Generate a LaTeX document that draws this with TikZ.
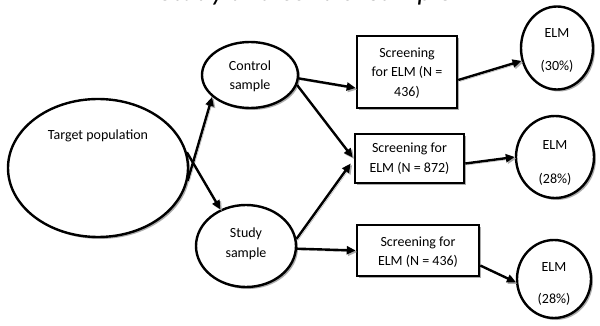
\documentclass[tikz,border=0pt]{standalone}
\usepackage{fontspec}
\setmainfont{Carlito}
\usetikzlibrary{shapes.geometric,shadows,arrows.meta,calc}
\begin{document}
\begin{tikzpicture}[x=1pt,y=-1pt,
  shad/.style={drop shadow={shadow xshift=2pt,shadow yshift=-2pt,fill=gray!65,opacity=1}},
  oval/.style={ellipse,draw=black,line width=2.4pt,fill=white,shad,inner sep=0pt},
  boxn/.style={rectangle,draw=black,line width=2.6pt,fill=white,shad,inner sep=0pt},
  lbl/.style={font=\fontsize{14}{17}\selectfont,inner sep=0pt,anchor=base},
  conn/.style={line width=2.4pt,-{Triangle[length=9pt,width=8pt]},
    preaction={draw=gray!65,transform canvas={xshift=1.5pt,yshift=-1.5pt}}}]
\fill[white] (0,0) rectangle (600,326);
\useasboundingbox (0,0) rectangle (600,326);

% title, mostly cut off above the picture
\node (title) [font=\fontsize{28.6}{30}\selectfont\itshape, anchor=base, inner sep=0pt] at (306,0.8) {Study and control sample};

% shapes
\node (target)  [oval, minimum width=180pt, minimum height=138pt] at (98,168) {};
\node (control) [oval, minimum width=96pt,  minimum height=66pt]  at (250,75) {};
\node (study)   [oval, minimum width=100pt, minimum height=82pt]  at (246,246) {};
\node (box1) [boxn, minimum width=100pt, minimum height=72pt] at (407,72) {};
\node (box2) [boxn, minimum width=109pt, minimum height=49pt] at (409.5,158.5) {};
\node (box3) [boxn, minimum width=122pt, minimum height=51pt] at (418,250.5) {};
\node (elm1) [oval, minimum width=72pt, minimum height=83pt] at (557,48) {};
\node (elm2) [oval, minimum width=78pt, minimum height=82pt] at (555,157) {};
\node (elm3) [oval, minimum width=74pt, minimum height=78pt] at (554,279) {};

% connectors
\draw[conn] (target.-8) -- (control.210);
\draw[conn] (target.10) -- (study.125);
\draw[conn] (control.-4) -- ($(box1.west)+(0,16)$);
\draw[conn] (control.-12) -- ($(box2.west)+(-1,-1)$);
\draw[conn] (study.8) -- ($(box2.west)+(-3,5)$);
\draw[conn] (study.-3) -- (box3.west);
\draw[conn] ($(box1.east)+(0,8)$) -- (elm1.200);
\draw[conn] ($(box2.east)+(0,5)$) -- (elm2.180);
\draw[conn] ($(box3.east)+(0,15)$) -- (elm3.185);

% texts
\node (tt)  [lbl] at (98,140) {Target population};
\node (tc1) [lbl] at (250,71) {Control};
\node (tc2) [lbl] at (250,90) {sample};
\node (ts1) [lbl] at (246,237) {Study};
\node (ts2) [lbl] at (246,257) {sample};
\node (tb1a) [lbl] at (407,58) {Screening};
\node (tb1b) [lbl] at (407,77) {for ELM (N =};
\node (tb1c) [lbl] at (407,97) {436)};
\node (tb2a) [lbl] at (409.5,153) {Screening for};
\node (tb2b) [lbl] at (409.5,173) {ELM (N = 872)};
\node (tb3a) [lbl] at (418,246) {Screening for};
\node (tb3b) [lbl] at (418,265) {ELM (N = 436)};
\node (te1a) [lbl] at (557,38) {ELM};
\node (te1b) [lbl] at (557,71) {(30\%)};
\node (te2a) [lbl] at (555,150) {ELM};
\node (te2b) [lbl] at (555,183) {(28\%)};
\node (te3a) [lbl] at (554,271) {ELM};
\node (te3b) [lbl] at (554,303) {(28\%)};
\end{tikzpicture}
\end{document}
